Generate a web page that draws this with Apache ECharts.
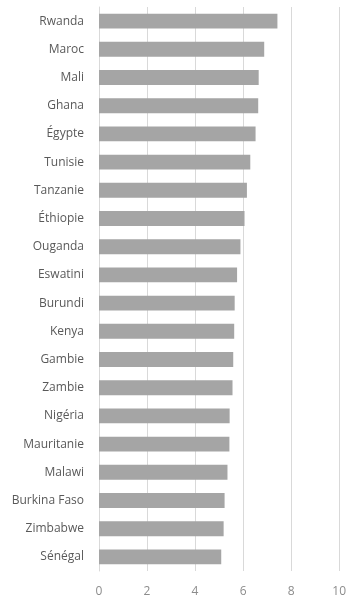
<!DOCTYPE html>
<html>
<head>
<meta charset="utf-8">
<script src="https://cdn.jsdelivr.net/npm/echarts@6/dist/echarts.min.js"></script>
<style>
  html, body { margin: 0; padding: 0; background: #fff; }
  #chart { width: 349px; height: 599px; }
</style>
</head>
<body>
<div id="chart"></div>
<script>
// Countries listed bottom-to-top (category axis runs upward)
const countries = [
  'Sénégal', 'Zimbabwe', 'Burkina Faso', 'Malawi', 'Mauritanie', 'Nigéria',
  'Zambie', 'Gambie', 'Kenya', 'Burundi', 'Eswatini', 'Ouganda',
  'Éthiopie', 'Tanzanie', 'Tunisie', 'Égypte', 'Ghana', 'Mali', 'Maroc', 'Rwanda'
];
const scores = [
  5.09, 5.19, 5.23, 5.35, 5.43, 5.44,
  5.56, 5.59, 5.63, 5.65, 5.75, 5.89,
  6.06, 6.16, 6.30, 6.52, 6.63, 6.65, 6.88, 7.43
];
const xTicks = { min: 0, max: 10, interval: 2 };

const labelFont = "'Open Sans', 'Liberation Sans', sans-serif";
const chart = echarts.init(document.getElementById('chart'), null, { renderer: 'canvas' });
chart.setOption({
  animation: false,
  grid: { left: 99, right: 7, top: 7, bottom: 28, containLabel: false },
  xAxis: {
    type: 'value',
    min: xTicks.min, max: xTicks.max, interval: xTicks.interval,
    axisLine: { show: false },
    axisTick: { show: false },
    splitLine: { show: true, lineStyle: { color: '#D9D9D9', width: 1 } },
    axisLabel: { color: '#8C8C8C', fontSize: 12, fontFamily: labelFont, margin: 15 }
  },
  yAxis: {
    type: 'category',
    data: countries,
    axisLine: { show: true, lineStyle: { color: '#D9D9D9' } },
    axisTick: { show: false },
    axisLabel: { color: '#595959', fontSize: 12, fontFamily: labelFont, margin: 15 }
  },
  series: [{
    type: 'bar',
    data: scores,
    barCategoryGap: '47%',
    itemStyle: { color: '#A5A5A5' }
  }]
});
</script>
</body>
</html>
